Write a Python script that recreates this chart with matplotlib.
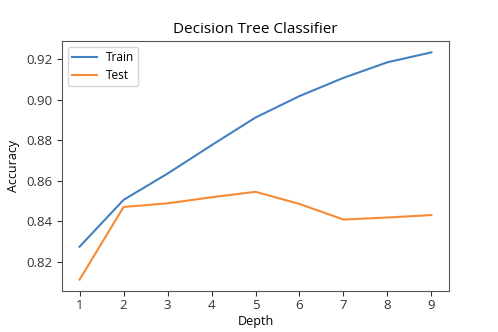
import matplotlib
matplotlib.use("Agg")
import matplotlib.pyplot as plt

plt.rcParams['font.family'] = ['Open Sans', 'DejaVu Sans']

depth = [1, 2, 3, 4, 5, 6, 7, 8, 9]
train_acc = [0.8274, 0.8505, 0.8635, 0.8775, 0.8912, 0.9018, 0.9108, 0.9185, 0.9234]
test_acc = [0.8111, 0.8470, 0.8488, 0.8518, 0.8545, 0.8485, 0.8408, 0.8418, 0.8430]

fig = plt.figure(figsize=(4.98, 3.32), dpi=100)
ax = fig.add_axes([62/498, 1 - 291/332, (449 - 62)/498, (291 - 41)/332])

ax.plot(depth, train_acc, color='#4481c0', lw=1.5, label='Train')
ax.plot(depth, test_acc, color='#f58b36', lw=1.5, label='Test')

ax.set_title('Decision Tree Classifier', fontsize=11)
ax.set_xlabel('Depth', fontsize=9, labelpad=2)
ax.set_ylabel('Accuracy', fontsize=9)
ax.set_xticks(depth)
ax.tick_params(labelsize=9.5, colors='#333333', length=3.5)
ax.tick_params(axis='x', pad=2.5)
for s in ax.spines.values():
    s.set_color('#555555')
ax.legend(loc='upper left', fontsize=8.6, handlelength=2.1, handletextpad=0.7,
          borderpad=0.35, labelspacing=0.4)

fig.savefig('out.png', dpi=100)
